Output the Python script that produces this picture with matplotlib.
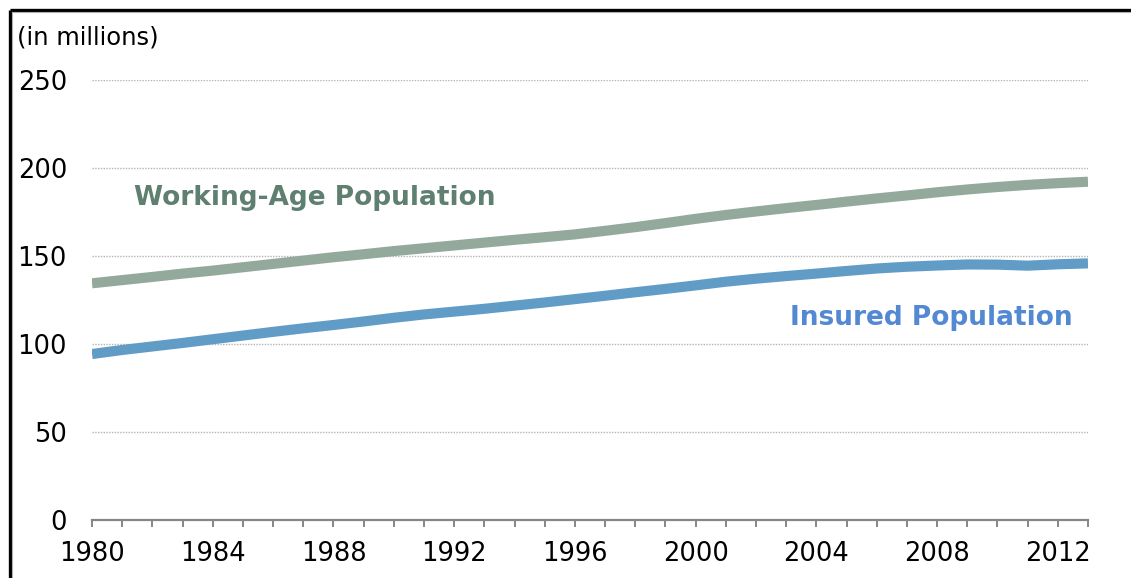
import matplotlib

matplotlib.use("Agg")
import matplotlib.pyplot as plt  # noqa: E402
from matplotlib.lines import Line2D  # noqa: E402


years = list(range(1980, 2014))
working_age = [
    134.5, 136.3, 138.1, 140.0, 141.7, 143.6, 145.5, 147.4, 149.3, 151.0,
    152.8, 154.4, 156.0, 157.6, 159.2, 160.7, 162.3, 164.3, 166.4, 168.7,
    171.1, 173.3, 175.3, 177.2, 179.0, 180.9, 182.7, 184.4, 186.2, 187.8,
    189.2, 190.4, 191.4, 192.2,
]
insured = [
    94.3, 96.6, 98.6, 100.6, 102.7, 104.8, 106.9, 108.9, 110.8, 112.8,
    114.9, 116.8, 118.4, 120.0, 121.8, 123.6, 125.5, 127.4, 129.4, 131.3,
    133.3, 135.4, 137.1, 138.6, 140.0, 141.5, 142.9, 143.9, 144.6, 145.2,
    145.1, 144.5, 145.3, 145.8,
]
y_ticks = [0, 50, 100, 150, 200, 250]
label_years = list(range(1980, 2014, 4))

GREEN = "#93a99b"
GREEN_TEXT = "#5f8070"
BLUE = "#609cc6"
BLUE_TEXT = "#5289d2"
GRID = "#b4b4b4"
AXIS = "#868686"

W, H = 1131, 578
fig = plt.figure(figsize=(W / 100, H / 100), dpi=100)
fig.patch.set_facecolor("white")
ax = fig.add_axes([92 / W, 1 - 520 / H, (1088 - 92) / W, (520 - 80) / H])

ax.plot(years, working_age, color=GREEN, lw=7.3, solid_capstyle="butt", zorder=3)
ax.plot(years, insured, color=BLUE, lw=7.3, solid_capstyle="butt", zorder=3)

ax.set_xlim(1980, 2013)
ax.set_ylim(0, 250)
ax.set_yticks(y_ticks)
ax.set_yticklabels([str(v) for v in y_ticks])
ax.set_xticks(years)
ax.set_xticklabels([str(y) if y in label_years else "" for y in years])

for v in y_ticks[1:]:
    ax.axhline(v, color=GRID, lw=1.0, ls=(0, (1, 1)), zorder=1)

for side in ("top", "right", "left"):
    ax.spines[side].set_visible(False)
ax.spines["bottom"].set_color(AXIS)
ax.spines["bottom"].set_linewidth(1.6)
ax.spines["bottom"].set_zorder(2)

ax.tick_params(axis="x", direction="out", length=5, width=1.4, color=AXIS,
               labelsize=18.5, pad=10, labelcolor="black")
ax.tick_params(axis="y", length=0, labelsize=18.5, pad=18, labelcolor="black")

ax.text(1981.4, 183, "Working-Age Population", color=GREEN_TEXT, fontsize=19,
        fontweight="bold", va="center", ha="left")
ax.text(2012.5, 115, "Insured Population", color=BLUE_TEXT, fontsize=19,
        fontweight="bold", va="center", ha="right")

fig.text(17 / W, 1 - 38 / H, "(in millions)", fontsize=17.5, va="center", ha="left")

# frame edges at the top and left of the picture
fig.add_artist(Line2D([10 / W, 1], [1 - 9.5 / H, 1 - 9.5 / H], color="black", lw=2.4,
                      solid_capstyle="butt", transform=fig.transFigure))
fig.add_artist(Line2D([10 / W, 10 / W], [0, 1 - 9.5 / H], color="black", lw=2.4,
                      solid_capstyle="butt", transform=fig.transFigure))
fig.add_artist(Line2D([12 / W, 1], [1 - 12 / H, 1 - 12 / H], color="#b0b0b0", lw=0.8,
                      transform=fig.transFigure))
fig.add_artist(Line2D([12 / W, 12 / W], [0, 1 - 12 / H], color="#b0b0b0", lw=0.8,
                      transform=fig.transFigure))

fig.savefig("out.png", dpi=100)
plt.close(fig)
